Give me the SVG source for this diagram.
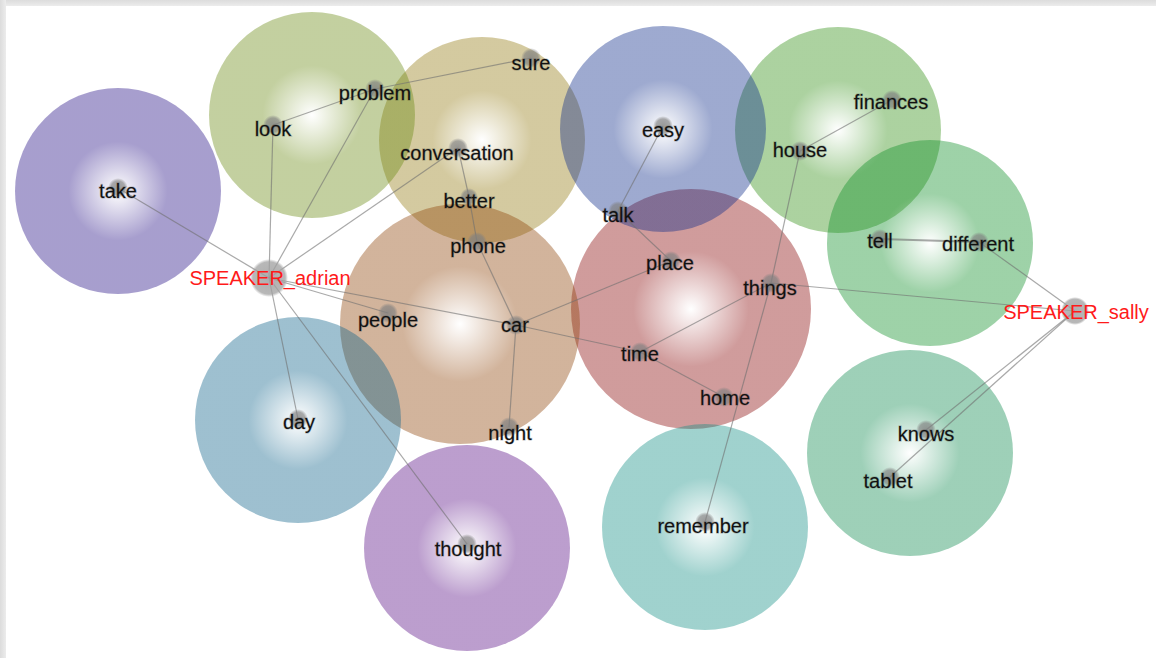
<svg xmlns="http://www.w3.org/2000/svg" width="1156" height="658" viewBox="0 0 1156 658">
<defs>
<linearGradient id="fTop" x1="0" y1="0" x2="0" y2="1"><stop offset="0" stop-color="#dcdcdc"/><stop offset="1" stop-color="#ececec"/></linearGradient>
<linearGradient id="fLeft" x1="0" y1="0" x2="1" y2="0"><stop offset="0" stop-color="#dcdcdc"/><stop offset="1" stop-color="#ececec"/></linearGradient>
<radialGradient id="gTake"><stop offset="0" stop-color="#fff"/><stop offset="0.48" stop-color="#230d84"/></radialGradient>
<radialGradient id="gLook"><stop offset="0" stop-color="#fff"/><stop offset="0.48" stop-color="#698911"/></radialGradient>
<radialGradient id="gConv"><stop offset="0" stop-color="#fff"/><stop offset="0.48" stop-color="#937a11"/></radialGradient>
<radialGradient id="gEasy"><stop offset="0" stop-color="#fff"/><stop offset="0.48" stop-color="#0c2a89"/></radialGradient>
<radialGradient id="gHouse"><stop offset="0" stop-color="#fff"/><stop offset="0.48" stop-color="#2f8e11"/></radialGradient>
<radialGradient id="gTell"><stop offset="0" stop-color="#fff"/><stop offset="0.48" stop-color="#0c8e25"/></radialGradient>
<radialGradient id="gCar"><stop offset="0" stop-color="#fff"/><stop offset="0.48" stop-color="#8e4307"/></radialGradient>
<radialGradient id="gPlace"><stop offset="0" stop-color="#fff"/><stop offset="0.48" stop-color="#890707"/></radialGradient>
<radialGradient id="gDay"><stop offset="0" stop-color="#fff"/><stop offset="0.48" stop-color="#0c6189"/></radialGradient>
<radialGradient id="gThought"><stop offset="0" stop-color="#fff"/><stop offset="0.48" stop-color="#570c84"/></radialGradient>
<radialGradient id="gRem"><stop offset="0" stop-color="#fff"/><stop offset="0.48" stop-color="#118e84"/></radialGradient>
<radialGradient id="gKnows"><stop offset="0" stop-color="#fff"/><stop offset="0.48" stop-color="#0c894d"/></radialGradient>
<radialGradient id="gDot"><stop offset="0" stop-color="#808080" stop-opacity="0.8"/><stop offset="0.7" stop-color="#808080" stop-opacity="0.65"/><stop offset="1" stop-color="#808080" stop-opacity="0"/></radialGradient>
<radialGradient id="gSpk"><stop offset="0" stop-color="#a0a0a0" stop-opacity="0.85"/><stop offset="0.85" stop-color="#a0a0a0" stop-opacity="0.75"/><stop offset="1" stop-color="#a0a0a0" stop-opacity="0"/></radialGradient>
</defs>
<style>
.bub{opacity:0.4}
.edge{stroke:#707070;stroke-opacity:0.6;stroke-width:1.2;fill:none}
.lbl{font-family:"Liberation Sans",Arial,sans-serif;font-size:20px;fill:#111;text-anchor:middle;stroke:#000;stroke-opacity:0.2;stroke-width:1.3;paint-order:stroke}
.spk{font-family:"Liberation Sans",Arial,sans-serif;font-size:20px;fill:#ff1a1a;text-anchor:middle}
</style>
<rect x="0" y="0" width="1156" height="658" fill="#fff"/>
<rect x="0" y="0" width="1156" height="6" fill="url(#fTop)"/>
<rect x="0" y="0" width="6" height="658" fill="url(#fLeft)"/>

<g id="clusters">
<circle id="c-take" class="bub" cx="118" cy="191" r="103" fill="url(#gTake)"/>
<circle id="c-conversation" class="bub" cx="482" cy="140" r="103" fill="url(#gConv)"/>
<circle id="c-look" class="bub" cx="312" cy="115" r="103" fill="url(#gLook)"/>
<circle id="c-house" class="bub" cx="838" cy="130" r="103" fill="url(#gHouse)"/>
<circle id="c-tell" class="bub" cx="930" cy="243" r="103" fill="url(#gTell)"/>
<circle id="c-place" class="bub" cx="691" cy="309" r="120" fill="url(#gPlace)"/>
<circle id="c-easy" class="bub" cx="663" cy="129" r="103" fill="url(#gEasy)"/>
<circle id="c-car" class="bub" cx="460" cy="324" r="120" fill="url(#gCar)"/>
<circle id="c-day" class="bub" cx="298" cy="420" r="103" fill="url(#gDay)"/>
<circle id="c-thought" class="bub" cx="467" cy="548" r="103" fill="url(#gThought)"/>
<circle id="c-remember" class="bub" cx="705" cy="527" r="103" fill="url(#gRem)"/>
<circle id="c-knows" class="bub" cx="910" cy="453" r="103" fill="url(#gKnows)"/>
</g>

<g id="connectors">
<line class="edge" x1="118" y1="188" x2="269" y2="278"/>
<line class="edge" x1="273" y1="125" x2="269" y2="278"/>
<line class="edge" x1="375" y1="89" x2="269" y2="278"/>
<line class="edge" x1="273" y1="125" x2="375" y2="89"/>
<line class="edge" x1="375" y1="89" x2="531" y2="58"/>
<line class="edge" x1="458" y1="148" x2="269" y2="278"/>
<line class="edge" x1="269" y1="278" x2="388" y2="313"/>
<line class="edge" x1="269" y1="278" x2="516" y2="325"/>
<line class="edge" x1="516" y1="325" x2="640" y2="352"/>
<line class="edge" x1="269" y1="278" x2="298" y2="419"/>
<line class="edge" x1="269" y1="278" x2="467" y2="544"/>
<line class="edge" x1="458" y1="148" x2="469" y2="197"/>
<line class="edge" x1="469" y1="197" x2="477" y2="242"/>
<line class="edge" x1="477" y1="242" x2="516" y2="325"/>
<line class="edge" x1="516" y1="325" x2="509" y2="427"/>
<line class="edge" x1="516" y1="325" x2="671" y2="261"/>
<line class="edge" x1="663" y1="126" x2="618" y2="211"/>
<line class="edge" x1="618" y1="211" x2="671" y2="261"/>
<line class="edge" x1="771" y1="283" x2="640" y2="352"/>
<line class="edge" x1="640" y1="352" x2="724" y2="397"/>
<line class="edge" x1="771" y1="283" x2="1075" y2="311"/>
<line class="edge" x1="800" y1="151" x2="892" y2="100"/>
<line class="edge" x1="800" y1="151" x2="771" y2="283"/>
<line class="edge" x1="771" y1="283" x2="705" y2="522"/>
<line class="edge" x1="880" y1="239" x2="979" y2="242" style="stroke-width:1.8"/>
<line class="edge" x1="979" y1="242" x2="1075" y2="311"/>
<line class="edge" x1="1075" y1="311" x2="926" y2="430"/>
<line class="edge" x1="1075" y1="311" x2="890" y2="477"/>
</g>

<g id="n-take"><circle cx="118" cy="188" r="10" fill="url(#gDot)"/><text class="lbl" x="118" y="198">take</text></g>
<g id="n-look"><circle cx="273" cy="125" r="10" fill="url(#gDot)"/><text class="lbl" x="273" y="136">look</text></g>
<g id="n-problem"><circle cx="375" cy="89" r="10" fill="url(#gDot)"/><text class="lbl" x="375" y="100">problem</text></g>
<g id="n-sure"><circle cx="531" cy="58" r="10" fill="url(#gDot)"/><text class="lbl" x="531" y="70">sure</text></g>
<g id="n-conversation"><circle cx="458" cy="148" r="10" fill="url(#gDot)"/><text class="lbl" x="457" y="160">conversation</text></g>
<g id="n-better"><circle cx="469" cy="197" r="9" fill="url(#gDot)"/><text class="lbl" x="469" y="208">better</text></g>
<g id="n-phone"><circle cx="477" cy="242" r="10" fill="url(#gDot)"/><text class="lbl" x="478" y="253">phone</text></g>
<g id="n-adrian"><circle cx="269" cy="278" r="19" fill="url(#gSpk)"/><text class="spk" x="270" y="285">SPEAKER_adrian</text></g>
<g id="n-people"><circle cx="388" cy="313" r="10" fill="url(#gDot)"/><text class="lbl" x="388" y="327">people</text></g>
<g id="n-car"><circle cx="516" cy="325" r="10" fill="url(#gDot)"/><text class="lbl" x="515" y="332">car</text></g>
<g id="n-night"><circle cx="509" cy="427" r="10" fill="url(#gDot)"/><text class="lbl" x="510" y="440">night</text></g>
<g id="n-day"><circle cx="298" cy="419" r="10" fill="url(#gDot)"/><text class="lbl" x="299" y="429">day</text></g>
<g id="n-thought"><circle cx="467" cy="544" r="10" fill="url(#gDot)"/><text class="lbl" x="468" y="556">thought</text></g>
<g id="n-easy"><circle cx="663" cy="126" r="10" fill="url(#gDot)"/><text class="lbl" x="663" y="137">easy</text></g>
<g id="n-talk"><circle cx="618" cy="211" r="10" fill="url(#gDot)"/><text class="lbl" x="618" y="222">talk</text></g>
<g id="n-place"><circle cx="671" cy="261" r="10" fill="url(#gDot)"/><text class="lbl" x="670" y="270">place</text></g>
<g id="n-things"><circle cx="771" cy="283" r="10" fill="url(#gDot)"/><text class="lbl" x="770" y="295">things</text></g>
<g id="n-time"><circle cx="640" cy="352" r="10" fill="url(#gDot)"/><text class="lbl" x="640" y="361">time</text></g>
<g id="n-home"><circle cx="724" cy="397" r="10" fill="url(#gDot)"/><text class="lbl" x="725" y="405">home</text></g>
<g id="n-remember"><circle cx="705" cy="522" r="10" fill="url(#gDot)"/><text class="lbl" x="703" y="533">remember</text></g>
<g id="n-house"><circle cx="800" cy="151" r="10" fill="url(#gDot)"/><text class="lbl" x="800" y="157">house</text></g>
<g id="n-finances"><circle cx="892" cy="100" r="10" fill="url(#gDot)"/><text class="lbl" x="891" y="109">finances</text></g>
<g id="n-tell"><circle cx="880" cy="239" r="10" fill="url(#gDot)"/><text class="lbl" x="880" y="248">tell</text></g>
<g id="n-different"><circle cx="979" cy="242" r="10" fill="url(#gDot)"/><text class="lbl" x="978" y="251">different</text></g>
<g id="n-sally"><circle cx="1075" cy="311" r="14" fill="url(#gSpk)"/><text class="spk" x="1076" y="319">SPEAKER_sally</text></g>
<g id="n-knows"><circle cx="926" cy="430" r="10" fill="url(#gDot)"/><text class="lbl" x="926" y="441">knows</text></g>
<g id="n-tablet"><circle cx="890" cy="477" r="10" fill="url(#gDot)"/><text class="lbl" x="888" y="488">tablet</text></g>
</svg>
